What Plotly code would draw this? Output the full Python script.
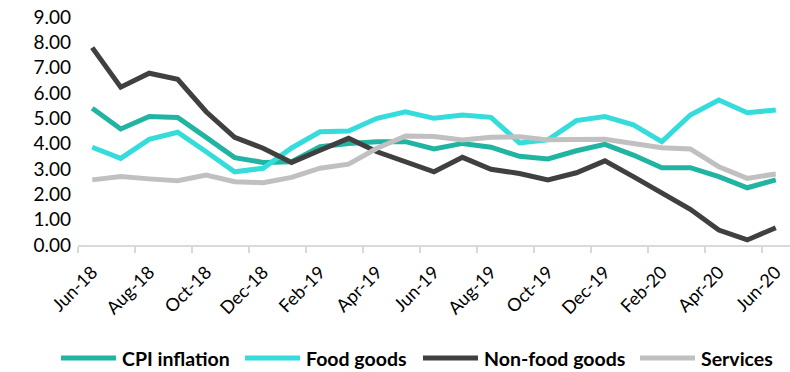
import plotly.graph_objects as go

# Monthly inflation rates (% y/y), Jun-2018 .. Jun-2020
months = ["Jun-18", "Jul-18", "Aug-18", "Sep-18", "Oct-18", "Nov-18", "Dec-18",
          "Jan-19", "Feb-19", "Mar-19", "Apr-19", "May-19", "Jun-19", "Jul-19",
          "Aug-19", "Sep-19", "Oct-19", "Nov-19", "Dec-19", "Jan-20", "Feb-20",
          "Mar-20", "Apr-20", "May-20", "Jun-20"]

cpi_inflation = [5.40, 4.58, 5.07, 5.03, 4.25, 3.45, 3.26, 3.29, 3.88, 4.01, 4.08, 4.08,
                 3.79, 4.01, 3.86, 3.50, 3.40, 3.72, 3.97, 3.55, 3.05, 3.05, 2.70, 2.26, 2.57]
food_goods = [3.86, 3.42, 4.17, 4.45, 3.68, 2.89, 3.03, 3.83, 4.47, 4.50, 5.00, 5.26,
              5.00, 5.13, 5.04, 4.03, 4.15, 4.91, 5.07, 4.74, 4.08, 5.13, 5.72, 5.22, 5.33]
non_food_goods = [7.79, 6.23, 6.78, 6.54, 5.26, 4.25, 3.82, 3.26, 3.74, 4.21, 3.68, 3.29,
                  2.89, 3.46, 2.99, 2.82, 2.57, 2.85, 3.32, 2.70, 2.04, 1.41, 0.59, 0.20, 0.68]
services = [2.57, 2.70, 2.61, 2.54, 2.76, 2.50, 2.46, 2.67, 3.03, 3.19, 3.82, 4.30,
            4.28, 4.15, 4.25, 4.27, 4.15, 4.18, 4.17, 4.01, 3.84, 3.79, 3.09, 2.63, 2.80]

y_ticks = [0, 1, 2, 3, 4, 5, 6, 7, 8, 9]

series_names = ["CPI inflation", "Food goods", "Non-food goods", "Services"]
series_values = [cpi_inflation, food_goods, non_food_goods, services]
series_colors = ["#22B4A2", "#35DCDC", "#404040", "#C0C0C0"]

# Page geometry (pixels) used to place the legend row below the axis
W, H = 790, 372
M_L, M_R, M_T, M_B = 78, 0, 17, 127
plot_w = W - M_L - M_R
plot_h = H - M_T - M_B
legend_left_px = [61, 245, 423, 640]   # left end of each legend swatch
swatch_len_px = 55
text_gap_px = 4
legend_y_px = 358

def px_to_paper_x(px):
    return (px - M_L) / plot_w

def px_to_paper_y(py):
    return (H - M_B - py) / plot_h

x_idx = list(range(len(months)))
font_family = "Lato, 'Open Sans', sans-serif"

fig = go.Figure()
for name, values, color in zip(series_names, series_values, series_colors):
    fig.add_trace(go.Scatter(
        x=x_idx, y=values, name=name, mode="lines",
        line=dict(color=color, width=5), showlegend=False,
    ))

# Legend row: coloured swatch + bold label per series
ly = px_to_paper_y(legend_y_px)
for name, color, left in zip(series_names, series_colors, legend_left_px):
    fig.add_shape(
        type="line", xref="paper", yref="paper",
        x0=px_to_paper_x(left), x1=px_to_paper_x(left + swatch_len_px),
        y0=ly, y1=ly, line=dict(color=color, width=5),
    )
    fig.add_annotation(
        xref="paper", yref="paper", x=px_to_paper_x(left + swatch_len_px + text_gap_px),
        y=ly, text=f"<b>{name}</b>", showarrow=False, xanchor="left", yanchor="middle",
        font=dict(size=19.5, family=font_family, color="#000000"),
    )

fig.update_layout(
    width=W, height=H,
    margin=dict(l=M_L, r=M_R, t=M_T, b=M_B),
    plot_bgcolor="white", paper_bgcolor="white",
    font=dict(family=font_family, color="#000000", size=18),
    showlegend=False,
    xaxis=dict(
        range=[-0.5, len(months) - 0.5],
        tickmode="array", tickvals=x_idx[::2], ticktext=months[::2],
        tickangle=-45, ticks="", showgrid=False, zeroline=False,
        showline=True, linecolor="#D9D9D9", linewidth=1.5,
        tickfont=dict(size=18), ticklabelstandoff=8,
        minor=dict(tickmode="linear", tick0=-0.5, dtick=2, ticks="outside",
                   ticklen=6, tickcolor="#D9D9D9", tickwidth=1.5, showgrid=False),
    ),
    yaxis=dict(
        range=[0, 9], tickmode="array", tickvals=y_ticks,
        ticktext=[f"{v:.2f}" for v in y_ticks],
        showgrid=False, zeroline=False, showline=False, ticks="",
        tickfont=dict(size=19), ticklabelstandoff=6,
    ),
)

fig.write_html("out.html")
